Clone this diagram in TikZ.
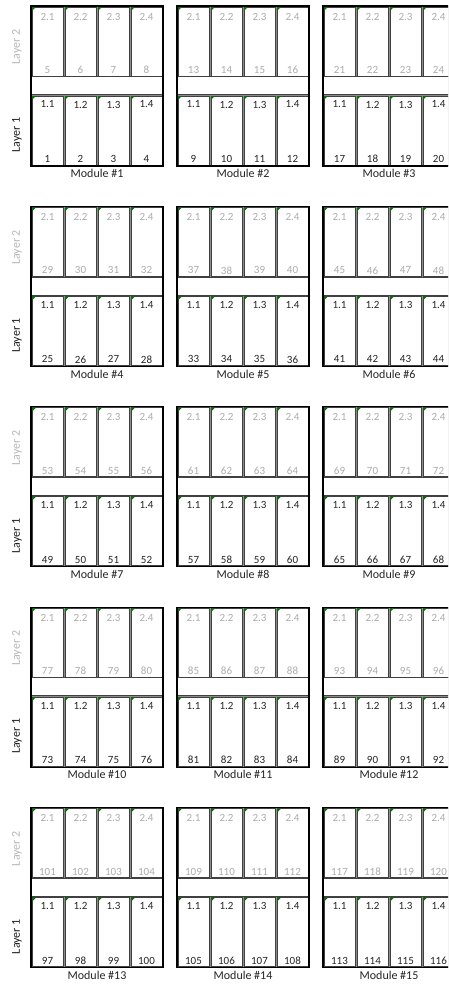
\documentclass[tikz,border=0pt]{standalone}
\usepackage{fontspec}
\setmainfont{Carlito}
\begin{document}
\begin{tikzpicture}[x=1pt,y=-1pt,
  gapfill/.style={fill=black!45},
  cellbox/.style={draw=black!75,fill=white,line width=0.7pt,rectangle,inner sep=0pt,outer sep=0pt,anchor=north west,minimum width=31pt,minimum height=69pt},
  stripbox/.style={draw=black!75,fill=white,line width=0.7pt,rectangle,inner sep=0pt,outer sep=0pt,anchor=north west,minimum width=132pt,minimum height=18pt},
  framebox/.style={draw=black,line width=1.3pt,rectangle,inner sep=0pt,outer sep=0pt,anchor=north west,minimum width=132pt,minimum height=160pt},
  lbltwo/.style={text=black!32,font=\fontsize{11}{12}\selectfont,inner sep=0pt},
  lblone/.style={text=black!85,font=\fontsize{11}{12}\selectfont,inner sep=0pt},
  modlbl/.style={text=black!85,font=\fontsize{12}{14}\selectfont,inner sep=0pt},
  laytwo/.style={text=black!28,font=\fontsize{12}{14}\selectfont,inner sep=0pt,rotate=90},
  layone/.style={text=black!88,font=\fontsize{12}{14}\selectfont,inner sep=0pt,rotate=90},
  corner/.style={fill=green!45!black}]
\useasboundingbox (0,0) rectangle (448,984);
\clip (0,0) rectangle (448,984);
\fill[white] (0,0) rectangle (448,984);
\foreach \r in {0,...,4}{
  \foreach \c in {0,1,2}{
    \pgfmathtruncatemacro\n{3*\r+\c+1}
    \begin{scope}[shift={(31+146*\c,6+200.4*\r)}]
      \fill[gapfill] (0,0) rectangle (132,160);
      \node[stripbox] (m\n-strip) at (0,70.5) {};
      \foreach \j in {0,...,3}{
        \pgfmathtruncatemacro\k{\j+1}
        \pgfmathtruncatemacro\a{8*(\n-1)+\j+1}
        \pgfmathtruncatemacro\b{\a+4}
        \node[cellbox] (m\n-u\k) at (33*\j+1,1) {};
        \node[cellbox] (m\n-d\k) at (33*\j+1,90) {};
        \fill[corner] (33*\j+1.2,1.2) -- ++(3.5,0) -- ++(-3.5,3.5) -- cycle;
        \fill[corner] (33*\j+1.2,90.2) -- ++(3.5,0) -- ++(-3.5,3.5) -- cycle;
        \node[lbltwo] (m\n-u\k-t) at (33*\j+16.5,10.5) {2.\k};
        \node[lbltwo] (m\n-u\k-b) at (33*\j+16.5,64) {\b};
        \node[lblone] (m\n-d\k-t) at (33*\j+16.5,98.5) {1.\k};
        \node[lblone] (m\n-d\k-b) at (33*\j+16.5,153) {\a};
      }
      \node[framebox] (m\n) at (0,0) {};
      \node[modlbl] (m\n-name) at (66,167.5) {Module \#\n};
      \ifnum\c=0
        \node[laytwo] (m\n-lay2) at (-14,41) {Layer 2};
        \node[layone] (m\n-lay1) at (-14,129) {Layer 1};
      \fi
    \end{scope}
  }
}
\end{tikzpicture}
\end{document}
